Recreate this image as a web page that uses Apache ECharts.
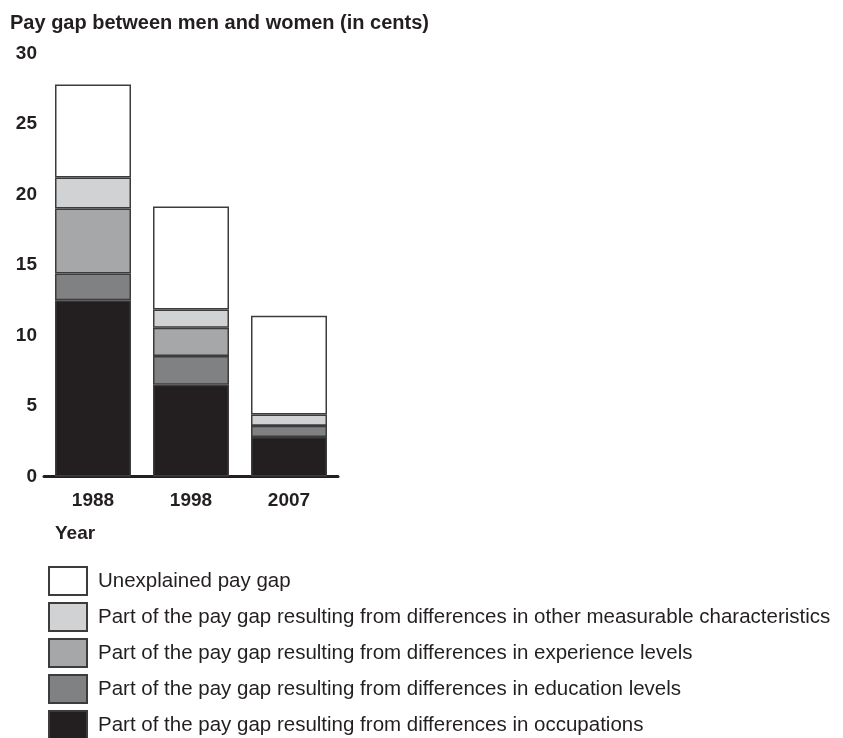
<!DOCTYPE html>
<html>
<head>
<meta charset="utf-8">
<script src="https://cdn.jsdelivr.net/npm/echarts@6/dist/echarts.min.js"></script>
<style>
  html, body { margin: 0; padding: 0; background: #fff; }
  #main { width: 843px; height: 738px; }
</style>
</head>
<body>
<div id="main"></div>
<script>
// 年份
const years = ['1988', '1998', '2007'];
// 各部分（美分）
const occupations = [12.5, 6.5, 2.8];
const education = [1.9, 2.05, 0.8];
const experience = [4.6, 2.0, 0];
const otherChars = [2.2, 1.3, 0.8];
const unexplained = [6.6, 7.3, 7.0];

const names = [
  'Part of the pay gap resulting from differences in occupations',
  'Part of the pay gap resulting from differences in education levels',
  'Part of the pay gap resulting from differences in experience levels',
  'Part of the pay gap resulting from differences in other measurable characteristics',
  'Unexplained pay gap'
];
const colors = ['#231f20', '#808183', '#a6a7a9', '#d1d2d4', '#ffffff'];
const values = [occupations, education, experience, otherChars, unexplained];

const font = 'Liberation Sans, Arial, Helvetica, sans-serif';
const ink = '#231f20';

let chart = echarts.init(document.getElementById('main'));
let option = {
  animation: false,
  title: [
    {
      text: 'Pay gap between men and women (in cents)',
      left: 5,
      top: 8,
      textStyle: { fontFamily: font, fontSize: 20, fontWeight: 'bold', color: ink }
    },
    {
      text: 'Year',
      left: 50,
      top: 519,
      textStyle: { fontFamily: font, fontSize: 19, fontWeight: 'bold', color: ink }
    }
  ],
  legend: {
    orient: 'vertical',
    left: 48,
    top: 566,
    height: 220,
    padding: 0,
    itemWidth: 38,
    itemHeight: 28,
    itemGap: 6,
    icon: 'rect',
    data: names.slice().reverse(),
    textStyle: { fontFamily: font, fontSize: 20.5, color: ink, padding: [0, 0, 0, 6] }
  },
  grid: {
    left: 44,
    top: 53.5,
    width: 294,
    height: 423
  },
  xAxis: {
    type: 'category',
    data: years,
    axisTick: { show: false },
    axisLine: { show: true, lineStyle: { color: ink, width: 3 } },
    axisLabel: { margin: 15, fontFamily: font, fontSize: 19, fontWeight: 'bold', color: ink }
  },
  yAxis: {
    type: 'value',
    min: 0,
    max: 30,
    interval: 5,
    splitLine: { show: false },
    axisLine: { show: false },
    axisTick: { show: false },
    axisLabel: { margin: 7, fontFamily: font, fontSize: 19, fontWeight: 'bold', color: ink }
  },
  series: names.map((n, i) => ({
    name: n,
    type: 'bar',
    stack: 'gap',
    barWidth: 76,
    data: values[i],
    itemStyle: {
      color: colors[i],
      borderColor: '#3c3c3c',
      borderWidth: 1.5
    }
  }))
};
chart.setOption(option);
</script>
</body>
</html>
